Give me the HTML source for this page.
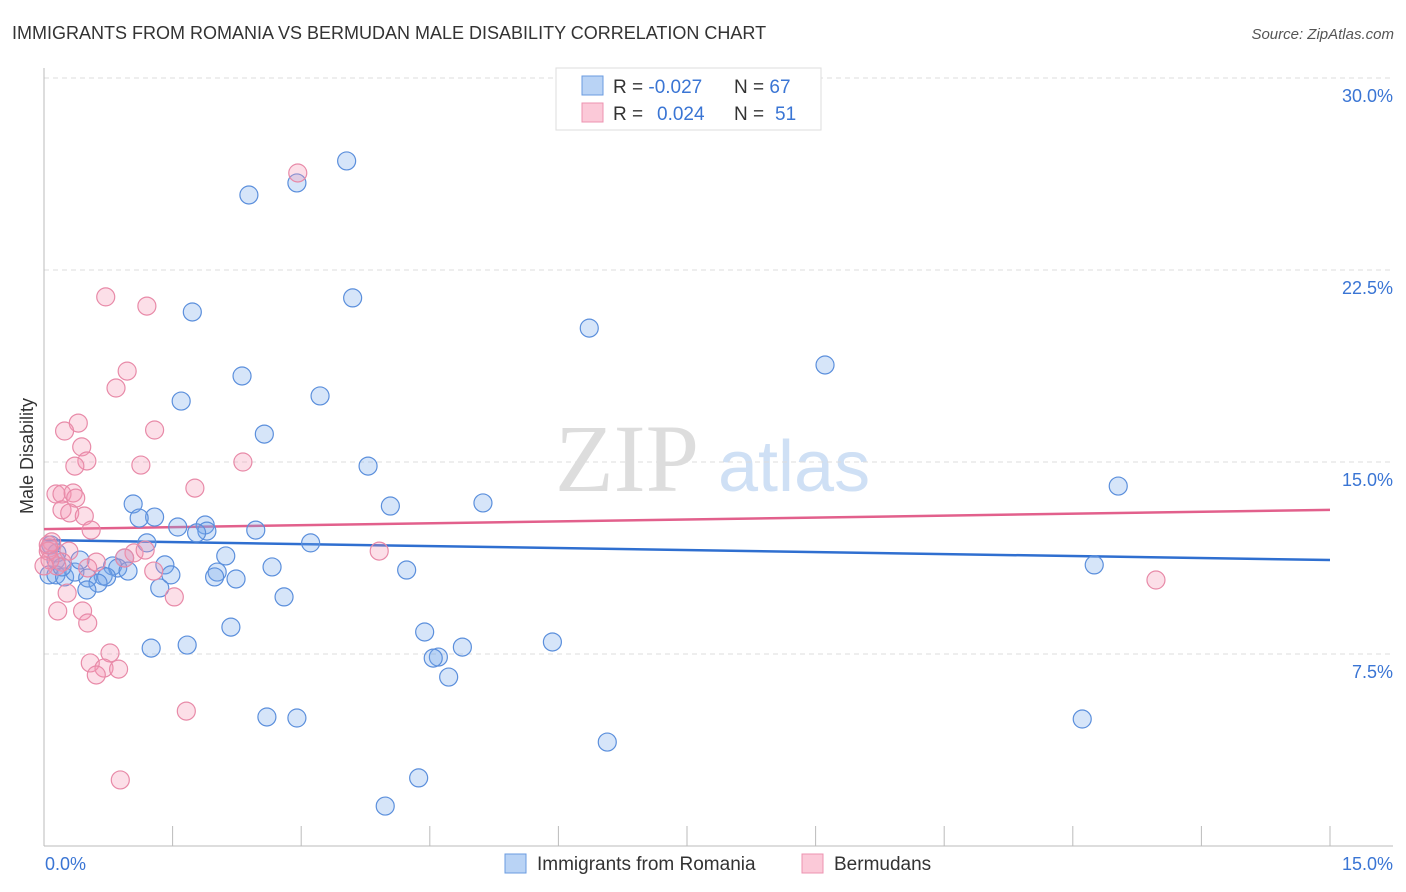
<!DOCTYPE html>
<html><head><meta charset="utf-8"><style>
body{margin:0;background:#fff;font-family:"Liberation Sans",sans-serif;}
svg{display:block}
</style></head><body>
<svg id="chart" width="1406" height="892" viewBox="0 0 1406 892" xmlns="http://www.w3.org/2000/svg">
<text x="12" y="39" font-size="18" fill="#333">IMMIGRANTS FROM ROMANIA VS BERMUDAN MALE DISABILITY CORRELATION CHART</text>
<text x="1394" y="39" font-size="15" fill="#555" text-anchor="end" font-style="italic">Source: ZipAtlas.com</text>
<text transform="translate(33,456) rotate(-90)" font-size="18" fill="#333" text-anchor="middle">Male Disability</text>
<g>
<text x="555" y="491" font-size="96" font-family="Liberation Serif,serif" fill="#ddd">ZIP</text>
<text x="718" y="491" font-size="72" fill="#cfe0f5">atlas</text>
</g>
<g id="grid"></g><g id="axes"></g><g id="trend"></g><g id="pts"></g>
<g>
<rect x="556" y="68" width="265" height="62" fill="#fff" stroke="#ddd"/>
<rect x="582" y="76" width="21" height="19" fill="#b9d3f5" stroke="#6a9be0"/>
<rect x="582" y="103" width="21" height="19" fill="#fbc9d8" stroke="#ec93b0"/>
<text x="613" y="93" font-size="19" fill="#333">R = <tspan fill="#3a75d4">-0.027</tspan><tspan x="734">N = </tspan><tspan fill="#3a75d4">67</tspan></text>
<text x="613" y="120" font-size="19" fill="#333">R = <tspan fill="#3a75d4" x="657">0.024</tspan><tspan x="734">N = </tspan><tspan fill="#3a75d4" x="775">51</tspan></text>
</g>
<g>
<rect x="505" y="854" width="21" height="19" fill="#b9d3f5" stroke="#6a9be0"/>
<text x="537" y="870" font-size="19" fill="#333">Immigrants from Romania</text>
<rect x="802" y="854" width="21" height="19" fill="#fbc9d8" stroke="#ec93b0"/>
<text x="834" y="870" font-size="19" fill="#333">Bermudans</text>
</g>
</svg>
<script>
const blueX=[3.53,2.95,2.39,3.60,1.73,6.36,9.11,2.31,3.22,1.60,2.57,3.78,12.53,1.04,4.04,5.12,1.29,1.11,1.56,1.88,1.90,1.78,2.47,1.20,3.11,0.08,0.15,2.12,0.94,1.41,2.66,0.80,0.86,0.98,12.25,4.23,0.06,0.14,0.24,2.02,1.99,2.24,1.48,0.36,0.51,0.69,0.73,0.63,0.50,1.35,2.80,2.18,4.44,1.25,1.67,5.93,4.88,4.60,4.54,4.72,2.60,2.95,12.11,6.57,4.37,3.98,0.14,0.21,0.42];
const blueY=[26.76,25.90,25.43,21.41,20.86,20.23,18.79,18.36,17.58,17.38,16.09,14.84,14.06,13.36,13.28,13.40,12.85,12.81,12.46,12.54,12.30,12.23,12.34,11.84,11.84,11.76,11.45,11.33,11.25,10.98,10.90,10.94,10.86,10.74,10.98,10.78,10.59,10.59,10.51,10.70,10.51,10.43,10.59,10.70,10.47,10.55,10.51,10.27,10.00,10.08,9.73,8.55,8.36,7.73,7.85,7.97,7.77,7.38,7.34,6.60,5.04,5.00,4.96,4.06,2.66,1.56,11.17,10.90,11.17];
const pinkX=[2.96,0.72,1.20,0.97,0.84,0.40,0.24,1.29,0.44,0.50,0.36,1.13,2.32,1.76,0.14,0.21,0.34,0.37,0.21,0.30,0.47,0.55,0.09,0.06,0.29,0.21,0.61,1.05,1.18,0.94,0.51,1.28,3.91,0.15,0.27,0.45,0.16,0.51,1.52,12.97,0.77,0.54,0.70,0.87,0.61,1.66,0.89,0.05,0.07,0.0,0.05];
const pinkY=[26.29,21.45,21.09,18.55,17.89,16.52,16.21,16.25,15.59,15.04,14.84,14.88,15.00,13.98,13.75,13.75,13.79,13.59,13.13,13.01,12.89,12.34,11.88,11.64,11.52,11.09,11.09,11.45,11.56,11.25,10.86,10.74,11.52,10.94,9.88,9.18,9.18,8.71,9.73,10.39,7.54,7.15,6.95,6.91,6.68,5.27,2.58,11.52,11.17,10.94,11.76];
const blueTrend=[11.95,11.17];
const pinkTrend=[12.38,13.13];
const yTicks=[7.5,15.0,22.5,30.0];
const xTicks=[0,1.5,3,4.5,6,7.5,9,10.5,12,13.5,15];
const NS="http://www.w3.org/2000/svg";
const X=v=>44+v*(1286/15);
const Y=v=>846-v*25.6;
function mk(tag,attrs,parent){const e=document.createElementNS(NS,tag);for(const k in attrs)e.setAttribute(k,attrs[k]);document.getElementById(parent).appendChild(e);return e;}
yTicks.forEach(t=>{
 const g=mk('line',{x1:44,x2:1393,y1:Y(t),y2:Y(t),stroke:'#ddd','stroke-dasharray':'5,4'},'grid');
 
 
 const l=mk('text',{x:1393,y:Y(t)+24,'font-size':18,fill:'#3a75d4','text-anchor':'end'},'grid');
 l.textContent=t.toFixed(1)+'%';
 
 
});
const ax=mk('line',{x1:44,x2:1393,y1:846,y2:846,stroke:'#bbb'},'axes');


const ay=mk('line',{x1:44,x2:44,y1:68,y2:846,stroke:'#bbb'},'axes');


xTicks.forEach(t=>{
 const k=mk('line',{x1:X(t),x2:X(t),y1:826,y2:846,stroke:'#bbb'},'axes');
 
 
});
[[0,'start',45],[15,'end',1393]].forEach(([t,a,x])=>{
 const l=mk('text',{x:x,y:870,'font-size':18,fill:'#3a75d4','text-anchor':a},'axes');
 l.textContent=t.toFixed(1)+'%';
 
 
});
function pts(xs,ys,fill,stroke,name){
 xs.forEach((v,i)=>{
  const c=mk('circle',{cx:X(v),cy:Y(ys[i]),r:9,fill:fill,stroke:stroke,'stroke-width':1.2},'pts');
  
  
 });
}
pts(blueX,blueY,'rgba(120,170,235,0.3)','#5b8fdc','romania-point');
pts(pinkX,pinkY,'rgba(245,150,180,0.3)','#e88aa8','bermudan-point');
const bt=mk('line',{x1:X(0),x2:X(15),y1:Y(blueTrend[0]),y2:Y(blueTrend[1]),stroke:'#2f6fd0','stroke-width':2.5},'trend');


const pt=mk('line',{x1:X(0),x2:X(15),y1:Y(pinkTrend[0]),y2:Y(pinkTrend[1]),stroke:'#e2608c','stroke-width':2.5},'trend');


</script>
</body></html>
